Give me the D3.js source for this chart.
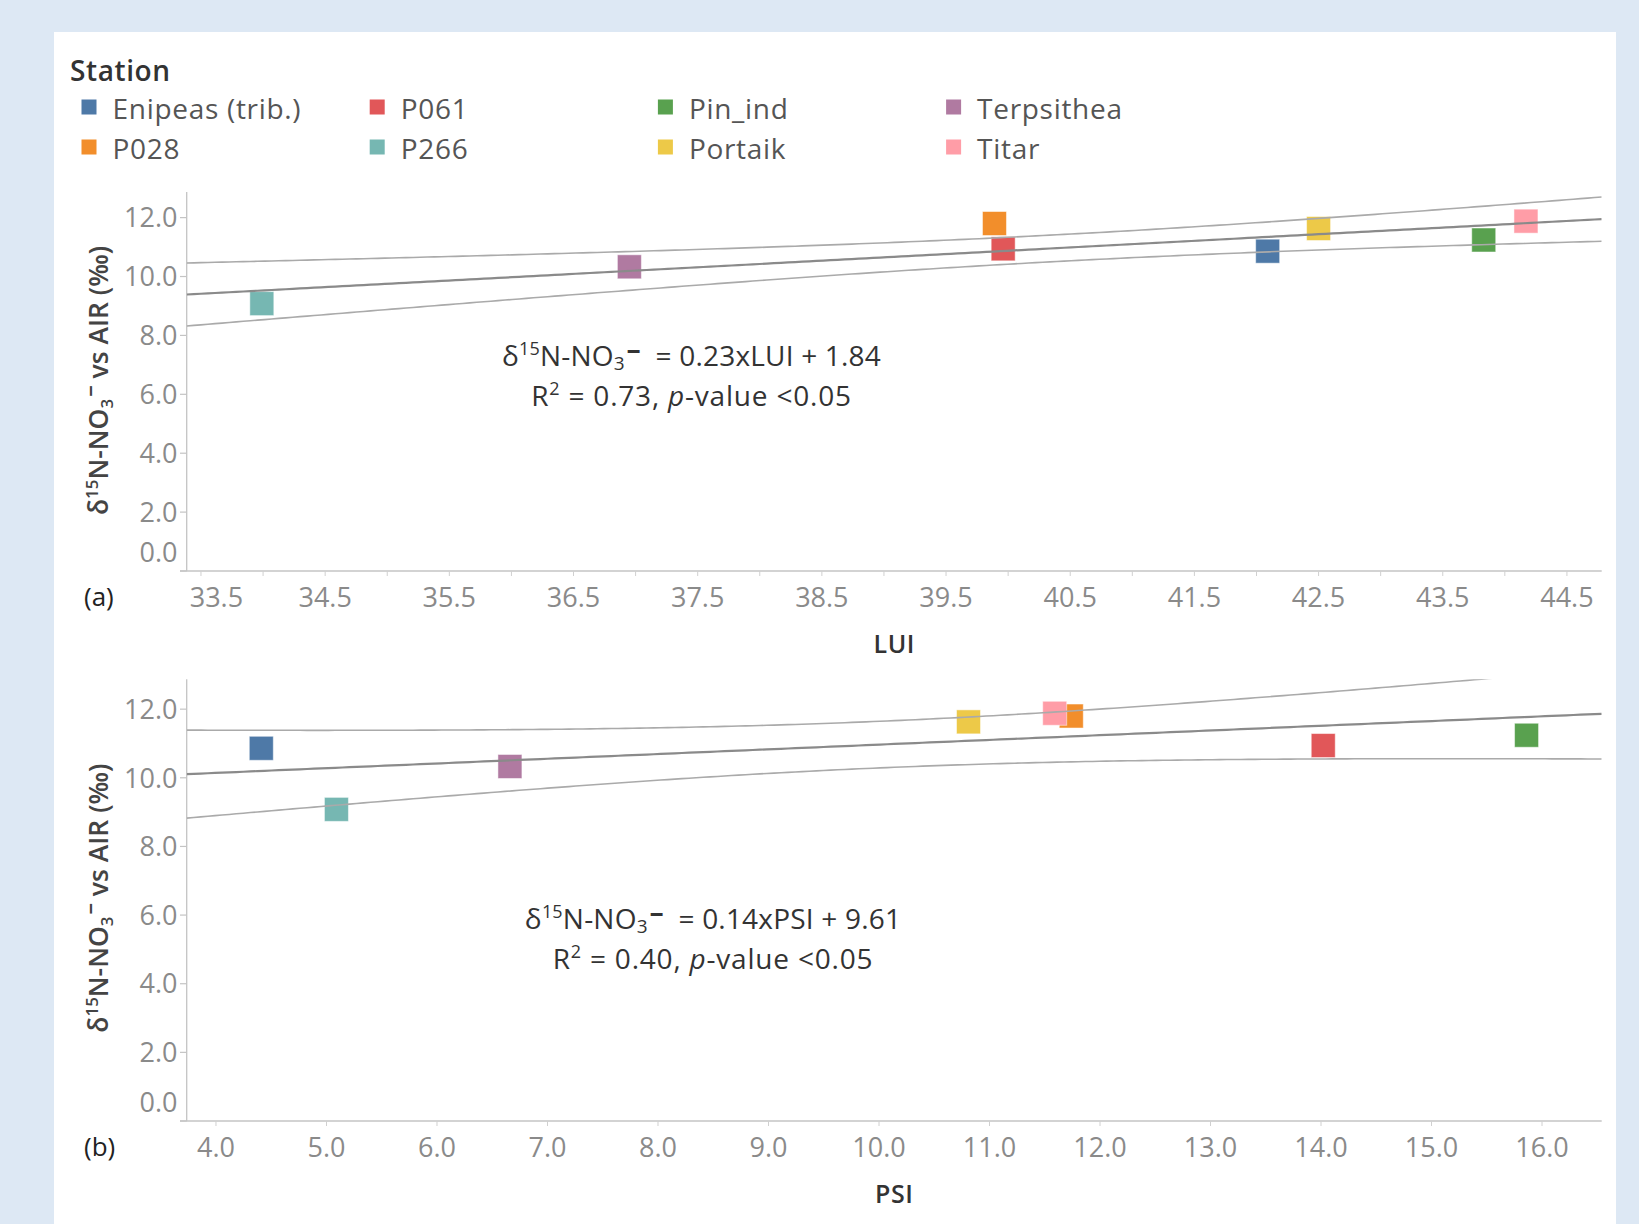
<!DOCTYPE html>
<html><head><meta charset="utf-8">
<script src="https://cdn.jsdelivr.net/npm/d3@7"></script>
<style>
body{margin:0;background:#dde8f4;}
svg{display:block;font-family:"Open Sans",sans-serif;}
</style></head><body>
<svg id="chart" width="1639" height="1224"></svg>
<script>
// ---- data ----
const stations = ["Enipeas (trib.)","P028","P061","P266","Pin_ind","Portaik","Terpsithea","Titar"];
const stationColors = ["#4e79a7","#f28e2b","#e15759","#76b7b2","#59a14f","#edc948","#b07aa1","#ff9da7"];
const d15N = [10.86, 11.80, 10.94, 9.08, 11.24, 11.63, 10.33, 11.88];
const lui = [42.09, 39.89, 39.96, 33.99, 43.83, 42.50, 36.95, 44.17];
const psi = [4.41, 11.74, 14.02, 5.09, 15.86, 10.81, 6.66, 11.59];
const luiTickLabels = [33.5,34.5,35.5,36.5,37.5,38.5,39.5,40.5,41.5,42.5,43.5,44.5];
const psiTickLabels = [4,5,6,7,8,9,10,11,12,13,14,15,16];
const yTickLabels = [0,2,4,6,8,10,12];
const eqA = {slope:"0.23", name:"LUI", intercept:"1.84", r2:"0.73"};
const eqB = {slope:"0.14", name:"PSI", intercept:"9.61", r2:"0.40"};
const tCrit = 2.4469; // t(0.975, df = n-2 = 6)

const svg = d3.select("#chart");
svg.append("rect").attr("width",1639).attr("height",1224).attr("fill","#dde8f4");
svg.append("rect").attr("x",54).attr("y",32).attr("width",1562).attr("height",1200).attr("fill","#ffffff");

// ---- legend ----
const lg = svg.append("g");
lg.append("text").attr("x",70).attr("y",80.5).attr("font-size",28).attr("font-weight",600)
  .attr("letter-spacing",0.6).attr("fill","#333").text("Station");
stations.forEach((s,i)=>{
  const col = Math.floor(i/2), row = i%2;
  const x = 81.5 + col*288.2, y = 99.5 + row*40;
  lg.append("rect").attr("x",x).attr("y",y).attr("width",15).attr("height",15).attr("fill",stationColors[i]);
  lg.append("text").attr("x",x+31).attr("y",y+19).attr("font-size",28).attr("letter-spacing",0.7)
    .attr("fill","#555").text(s);
});

function richText(g, segs, attrs, lineH){
  const t = g.append("text");
  Object.entries(attrs).forEach(([k,v])=>t.attr(k,v));
  let cur = 0;
  segs.forEach(s=>{
    const sp = t.append("tspan").text(s.t);
    const target = (s.line||0)*(lineH||0) + (s.dy||0);
    sp.attr("dy", target-cur); cur = target;
    if(s.x!==undefined) sp.attr("x", s.x);
    if(s.dx) sp.attr("dx", s.dx);
    if(s.size) sp.attr("font-size", s.size);
    if(s.w) sp.attr("font-weight", s.w);
    if(s.i) sp.attr("font-style","italic");
    if(s.ls!==undefined) sp.attr("letter-spacing", s.ls);
  });
  return t;
}

function fit(xs, ys){
  const n = xs.length, mx = d3.mean(xs), my = d3.mean(ys);
  let sxx=0, sxy=0, syy=0;
  xs.forEach((x,i)=>{sxx+=(x-mx)**2; sxy+=(x-mx)*(ys[i]-my); syy+=(ys[i]-my)**2;});
  const b = sxy/sxx, a = my-b*mx;
  const s = Math.sqrt((syy - b*sxy)/(n-2));
  return {a,b,f:x=>a+b*x, hw:x=>tCrit*s*Math.sqrt(1/n+(x-mx)**2/sxx)};
}

const panels = [
  {xs:lui, dom:[33.385,44.78], labels:luiTickLabels, minor:0.5, top:192, bottom:571,
   title:"LUI", tag:"(a)", eq:eqA, eqX:691.5, eqY:366, tagY:597, titleY:653},
  {xs:psi, dom:[3.735,16.54], labels:psiTickLabels, minor:1, top:679.3, bottom:1121,
   title:"PSI", tag:"(b)", eq:eqB, eqX:713, eqY:929.3, tagY:1147, titleY:1203}
];
const left = 186.7, right = 1601.7;

panels.forEach((p,pi)=>{
  const g = svg.append("g");
  const x = d3.scaleLinear().domain(p.dom).range([left,right]);
  const y = d3.scaleLinear().domain([0,12.87]).range([p.bottom,p.top]);
  const clipId = "clip"+pi;
  svg.append("clipPath").attr("id",clipId).append("rect")
    .attr("x",left).attr("y",p.top).attr("width",right-left).attr("height",p.bottom-p.top);

  // axes lines
  g.append("line").attr("x1",left).attr("x2",left).attr("y1",p.top).attr("y2",p.bottom)
    .attr("stroke","#c4c4c4").attr("stroke-width",1.3);
  g.append("line").attr("x1",180).attr("x2",right).attr("y1",p.bottom).attr("y2",p.bottom)
    .attr("stroke","#c4c4c4").attr("stroke-width",1.3);

  // y ticks
  yTickLabels.forEach(v=>{
    g.append("line").attr("x1",180).attr("x2",left).attr("y1",y(v)).attr("y2",y(v))
      .attr("stroke","#c4c4c4").attr("stroke-width",1.2);
    g.append("text").attr("x",177.5).attr("y",v===0 ? p.bottom-19 : y(v))
      .attr("dy","0.36em").attr("text-anchor","end").attr("font-size",27).attr("fill","#8a8a8a")
      .text(d3.format(".1f")(v));
  });
  // x ticks
  const minorTicks = d3.range(Math.ceil(p.dom[0]/p.minor)*p.minor, p.dom[1], p.minor);
  minorTicks.forEach(v=>{
    g.append("line").attr("x1",x(v)).attr("x2",x(v)).attr("y1",p.bottom).attr("y2",p.bottom+5)
      .attr("stroke","#d0d0d0").attr("stroke-width",1);
  });
  p.labels.forEach(v=>{
    const t = g.append("text").attr("x",x(v)).attr("y",p.tagY).attr("dy","0.36em")
      .attr("text-anchor","middle").attr("font-size",27).attr("fill","#8a8a8a").text(d3.format(".1f")(v));
    const bb = t.node().getBBox();
    if(bb.x < left+3){ t.attr("text-anchor","start").attr("x", left+3); }
  });

  // markers
  const mk = g.append("g");
  p.xs.forEach((xv,i)=>{
    mk.append("rect").attr("x",x(xv)-12).attr("y",y(d15N[i])-12).attr("width",24).attr("height",24)
      .attr("fill",stationColors[i]).attr("stroke","#ffffff").attr("stroke-opacity",0.5).attr("stroke-width",1);
  });

  // trend + confidence bands
  const fr = fit(p.xs, d15N);
  const xsamp = d3.range(0,201).map(k=>p.dom[0]+(p.dom[1]-p.dom[0])*k/200);
  const line = d3.line().x(d=>x(d[0])).y(d=>y(d[1]));
  const lg2 = g.append("g").attr("clip-path",`url(#${clipId})`).attr("fill","none");
  lg2.append("path").attr("d",line(xsamp.map(v=>[v,fr.f(v)+fr.hw(v)]))).attr("stroke","#aaaaaa").attr("stroke-width",1.6);
  lg2.append("path").attr("d",line(xsamp.map(v=>[v,fr.f(v)-fr.hw(v)]))).attr("stroke","#aaaaaa").attr("stroke-width",1.6);
  lg2.append("path").attr("d",line(xsamp.map(v=>[v,fr.f(v)]))).attr("stroke","#8a8a8a").attr("stroke-width",2.2);

  // tag and axis titles
  g.append("text").attr("x",84).attr("y",p.tagY).attr("dy","0.36em").attr("font-size",26).attr("fill","#222").text(p.tag);
  g.append("text").attr("x",(left+right)/2).attr("y",p.titleY).attr("text-anchor","middle")
    .attr("font-size",25).attr("font-weight",600).attr("letter-spacing",0.5).attr("fill","#333").text(p.title);
  const yc = (p.top+p.bottom)/2 + (pi===0? -1 : -2);
  const ytg = g.append("g").attr("transform",`translate(108,${yc}) rotate(-90)`);
  richText(ytg, [
    {t:"δ"},{t:"15",size:17,dy:-10},{t:"N-NO",dy:0},{t:"3",size:17,dy:5},{t:"−",size:20,dy:-10,w:700,dx:2},{t:" vs AIR (‰)",dy:0}
  ], {"x":0,"y":0,"text-anchor":"middle","font-size":26.5,"font-weight":600,"fill":"#444"});

  // equation (two lines in one text element)
  richText(g, [
    {t:"δ"},{t:"15",size:18,dy:-11},{t:"N-NO",dy:0},{t:"3",size:19,dy:4},{t:"−",size:24,dy:-6,w:800,dx:2},
    {t:"\u00a0\u00a0= "+p.eq.slope+"x"+p.eq.name+" + "+p.eq.intercept,dy:0},
    {t:"R",line:1,x:p.eqX,ls:0.8},{t:"2",size:18,line:1,dy:-11,ls:0.8},{t:" = "+p.eq.r2+", ",line:1,ls:0.8},
    {t:"p",i:true,line:1,ls:0.8},{t:"-value <0.05",line:1,ls:0.8}
  ], {"x":p.eqX,"y":p.eqY,"text-anchor":"middle","font-size":28,"letter-spacing":0.2,"fill":"#333"}, 40);
});
</script>
</body></html>
